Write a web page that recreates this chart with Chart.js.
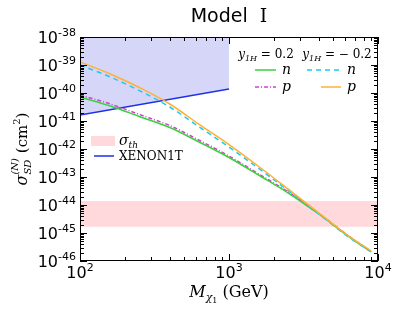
<!DOCTYPE html>
<html>
<head>
<meta charset="utf-8">
<script src="https://cdn.jsdelivr.net/npm/chart.js@4"></script>
<style>
  body { margin: 0; background: #fff; }
  canvas { display: block; }
</style>
</head>
<body>
<canvas id="chart" width="399" height="312"></canvas>
<script>
// data (cross sections in cm^2, masses in GeV)
const massGeV = [100, 160, 250, 400, 630, 1000, 1600, 2500, 4000, 6300, 9000];
const nPos = [7.2e-41, 3.43e-41, 1.45e-41, 5.86e-42, 1.78e-42, 4.97e-43, 1.13e-43, 2.68e-44, 4.77e-45, 7.8e-46, 2.1e-46];   // y1H = 0.2, n
const pPos = [8.5e-41, 4.05e-41, 1.71e-41, 6.9e-42, 2.06e-42, 5.6e-43, 1.24e-43, 2.92e-44, 5.1e-45, 8.1e-46, 2.14e-46];    // y1H = 0.2, p
const nNeg = [1.0e-39, 3.72e-40, 1.22e-40, 3.16e-41, 6.2e-42, 1.17e-42, 1.94e-43, 3.23e-44, 4.84e-45, 7.45e-46, 2.1e-46];   // y1H = -0.2, n
const pNeg = [1.28e-39, 4.77e-40, 1.57e-40, 4.05e-41, 7.6e-42, 1.44e-42, 2.28e-43, 3.67e-44, 5.26e-45, 8.1e-46, 2.28e-46]; // y1H = -0.2, p

const xenonMass = [100, 1000];
const xenonLimit = [1.64e-41, 1.39e-40];

const thMass = [100, 10000];
const thUpper = [1.39e-44, 1.39e-44];
const thLower = [1.68e-45, 1.68e-45];

const xTicks = [100, 1000, 10000];
const xTickExp = ["2", "3", "4"];
const yTicks = [1e-38, 1e-39, 1e-40, 1e-41, 1e-42, 1e-43, 1e-44, 1e-45, 1e-46];
const yTickExp = ["-38", "-39", "-40", "-41", "-42", "-43", "-44", "-45", "-46"];

const pts = (xs, ys) => xs.map((x, i) => ({ x: x, y: ys[i] }));

const SERIF = '"DejaVu Serif"';
const SANS = '"DejaVu Sans"';

// place text pieces; a piece with stack:true sits at the same x as the one before it
function layoutRuns(ctx, parts) {
  let cx = 0, prevStart = 0, prevW = 0;
  const placed = [];
  parts.forEach(p => {
    ctx.font = p.f;
    const w = ctx.measureText(p.t).width;
    if (p.stack) {
      placed.push({ p, x: prevStart });
      prevW = Math.max(prevW, w);
      cx = prevStart + prevW;
    } else {
      placed.push({ p, x: cx });
      prevStart = cx;
      prevW = w;
      cx += w;
    }
  });
  return { placed, width: cx };
}

function drawRuns(ctx, parts, x, y, align) {
  const lay = layoutRuns(ctx, parts);
  let x0 = x;
  if (align === "right") x0 = x - lay.width;
  if (align === "center") x0 = x - lay.width / 2;
  ctx.textAlign = "left";
  ctx.textBaseline = "alphabetic";
  lay.placed.forEach(o => {
    ctx.font = o.p.f;
    ctx.fillStyle = o.p.c || "#000";
    ctx.fillText(o.p.t, x0 + o.x, y + (o.p.dy || 0));
  });
}

const decorPlugin = {
  id: "decor",
  afterDraw(chart) {
    const ctx = chart.ctx;
    const a = chart.chartArea;
    const xs = chart.scales.x, ys = chart.scales.y;
    ctx.save();

    // frame
    ctx.strokeStyle = "#000";
    ctx.lineWidth = 1;
    ctx.strokeRect(a.left + 0.5, a.top + 0.5, a.right - a.left - 1, a.bottom - a.top - 1);

    // inward ticks on all four sides
    ctx.beginPath();
    for (let d = -46; d <= -38; d++) {
      for (let k = 1; k <= 9; k++) {
        const v = k * Math.pow(10, d);
        if (v > 1.0001e-38) break;
        const py = Math.round(ys.getPixelForValue(v)) + 0.5;
        const len = k === 1 ? 7 : 4;
        ctx.moveTo(a.left, py); ctx.lineTo(a.left + len, py);
        ctx.moveTo(a.right, py); ctx.lineTo(a.right - len, py);
      }
    }
    for (let d = 2; d <= 4; d++) {
      for (let k = 1; k <= 9; k++) {
        const v = k * Math.pow(10, d);
        if (v > 10001) break;
        const px = Math.round(xs.getPixelForValue(v)) + 0.5;
        const len = k === 1 ? 7 : 4;
        ctx.moveTo(px, a.bottom); ctx.lineTo(px, a.bottom - len);
        ctx.moveTo(px, a.top); ctx.lineTo(px, a.top + len);
      }
    }
    ctx.stroke();

    // tick labels
    yTicks.forEach((v, i) => {
      const py = ys.getPixelForValue(v);
      drawRuns(ctx, [
        { t: "10", f: "16px " + SANS },
        { t: yTickExp[i], f: "11px " + SANS, dy: -7 }
      ], a.left - 4, py + 6, "right");
    });
    xTicks.forEach((v, i) => {
      const px = xs.getPixelForValue(v);
      drawRuns(ctx, [
        { t: "10", f: "16px " + SANS },
        { t: xTickExp[i], f: "11px " + SANS, dy: -7 }
      ], px, a.bottom + 17, "center");
    });

    // title
    drawRuns(ctx, [
      { t: "Model  ", f: "19px " + SANS },
      { t: "\u2160", f: "19px " + SERIF }
    ], (a.left + a.right) / 2, 22, "center");

    // x axis label
    drawRuns(ctx, [
      { t: "M", f: "italic 16px " + SERIF },
      { t: "\u03c7", f: "italic 11px " + SERIF, dy: 4 },
      { t: "1", f: "8px " + SERIF, dy: 6 },
      { t: " (GeV)", f: "16px " + SERIF }
    ], (a.left + a.right) / 2, 297, "center");

    // y axis label
    ctx.save();
    ctx.translate(27, (a.top + a.bottom) / 2);
    ctx.rotate(-Math.PI / 2);
    drawRuns(ctx, [
      { t: "\u03c3", f: "italic 16px " + SERIF },
      { t: "SD", f: "italic 10px " + SERIF, dy: 4 },
      { t: "(N)", f: "italic 10px " + SERIF, dy: -9, stack: true },
      { t: " (cm", f: "15px " + SERIF },
      { t: "2", f: "10px " + SERIF, dy: -7 },
      { t: ")", f: "15px " + SERIF }
    ], 0, 0, "center");
    ctx.restore();

    // legend: y1H columns
    const head = (val, cx) => drawRuns(ctx, [
      { t: "y", f: "italic 12px " + SERIF },
      { t: "1H", f: "italic 8px " + SERIF, dy: 3 },
      { t: val, f: "12px " + SERIF }
    ], cx, 58, "center");
    head(" = 0.2", 266);
    head(" = \u2212 0.2", 337);

    const entry = (x1, x2, y, color, dash, label, lx) => {
      ctx.beginPath();
      ctx.strokeStyle = color;
      ctx.lineWidth = 1.5;
      ctx.setLineDash(dash);
      ctx.moveTo(x1, y); ctx.lineTo(x2, y);
      ctx.stroke();
      ctx.setLineDash([]);
      drawRuns(ctx, [{ t: label, f: "italic 14px " + SERIF }], lx, y + 4, "left");
    };
    entry(255, 276, 70, "#3ad13a", [], "n", 282);
    entry(255, 276, 87, "#d23fd2", [4, 2, 1, 2], "p", 282);
    entry(307, 339, 70, "#1ec8f5", [5, 4], "n", 347);
    entry(321, 341, 87, "#ffb030", [], "p", 347);

    // legend: threshold band and XENON1T
    ctx.fillStyle = "#ffd9db";
    ctx.fillRect(91, 136, 24, 10);
    drawRuns(ctx, [
      { t: "\u03c3", f: "italic 14px " + SERIF },
      { t: "th", f: "italic 9px " + SERIF, dy: 3 }
    ], 119, 145, "left");
    ctx.beginPath();
    ctx.strokeStyle = "#2030e8";
    ctx.lineWidth = 1.5;
    ctx.moveTo(94, 156); ctx.lineTo(114, 156);
    ctx.stroke();
    drawRuns(ctx, [{ t: "XENON1T", f: "12px " + SERIF }], 119, 160, "left");

    ctx.restore();
  }
};

new Chart(document.getElementById("chart").getContext("2d"), {
  type: "line",
  data: {
    datasets: [
      { data: pts(massGeV, pNeg), borderColor: "#ffb030", borderWidth: 1.5, fill: false, cubicInterpolationMode: "monotone" },
      { data: pts(massGeV, nNeg), borderColor: "#1ec8f5", borderWidth: 1.5, borderDash: [5, 4], fill: false, cubicInterpolationMode: "monotone" },
      { data: pts(massGeV, nPos), borderColor: "#3ad13a", borderWidth: 1.5, fill: false, cubicInterpolationMode: "monotone" },
      { data: pts(massGeV, pPos), borderColor: "#d23fd2", borderWidth: 1.5, borderDash: [4, 2, 1, 2], fill: false, cubicInterpolationMode: "monotone" },
      { data: pts(xenonMass, xenonLimit), borderColor: "#2030e8", borderWidth: 1.5, fill: "end", backgroundColor: "#d6d6f8" },
      { data: pts(thMass, thUpper), borderWidth: 0, borderColor: "rgba(0,0,0,0)", fill: "+1", backgroundColor: "#ffd9db" },
      { data: pts(thMass, thLower), borderWidth: 0, borderColor: "rgba(0,0,0,0)", fill: false }
    ]
  },
  options: {
    responsive: false,
    animation: false,
    devicePixelRatio: 1,
    layout: { padding: { left: 80, right: 21, top: 37, bottom: 51 } },
    elements: { point: { radius: 0 } },
    plugins: { legend: { display: false }, tooltip: { enabled: false } },
    scales: {
      x: { type: "logarithmic", min: 100, max: 10000, display: false },
      y: { type: "logarithmic", min: 1e-46, max: 1e-38, display: false }
    }
  },
  plugins: [decorPlugin]
});
</script>
</body>
</html>
